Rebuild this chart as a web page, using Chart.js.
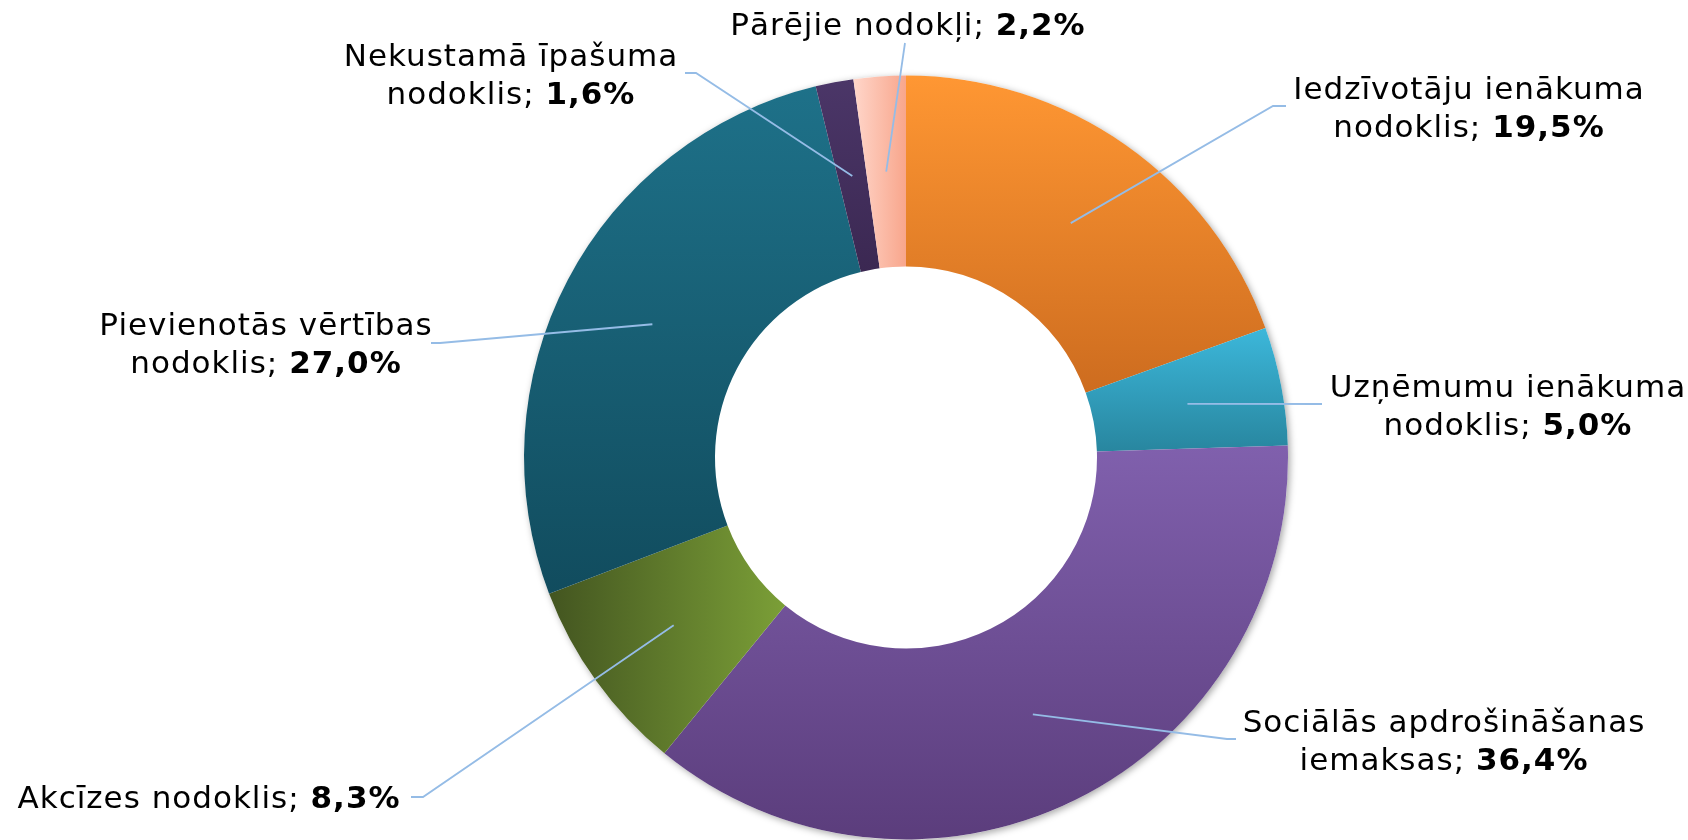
<!DOCTYPE html>
<html lang="lv">
<head>
<meta charset="UTF-8">
<title>Nodokļu ieņēmumu struktūra</title>
<script src="https://cdn.jsdelivr.net/npm/chart.js"></script>
<style>
    html, body { margin: 0; padding: 0; background: #ffffff; }
    .chart-box { position: relative; width: 1688px; height: 840px; }
</style>
</head>
<body>
<div class="chart-box"><canvas id="taxChart"></canvas></div>
<script>
    // data, clockwise from 12 o'clock
    const categories = [
        'Iedzīvotāju ienākuma nodoklis',
        'Uzņēmumu ienākuma nodoklis',
        'Sociālās apdrošināšanas iemaksas',
        'Akcīzes nodoklis',
        'Pievienotās vērtības nodoklis',
        'Nekustamā īpašuma nodoklis',
        'Pārējie nodokļi'
    ];
    const shares = [19.5, 5.0, 36.4, 8.3, 27.0, 1.6, 2.2];

    // fill of each slice: gradient from -> to, vertical or horizontal
    const sliceColors = [
        { from: '#ff9733', to: '#cd6c1f', dir: 'v' },
        { from: '#3cb7da', to: '#28869f', dir: 'v' },
        { from: '#8060ad', to: '#5b3d7c', dir: 'v' },
        { from: '#435520', to: '#7b9f37', dir: 'h' },
        { from: '#1e7189', to: '#114c5e', dir: 'v' },
        { from: '#4b3668', to: '#3b2852', dir: 'v' },
        { from: '#ffd6ca', to: '#f8a68c', dir: 'h' }
    ];

    // where each label sits: centre x, baseline of first line, and its leader line
    const labelSpots = [
        { x: 1469, y: 99,  lines: 2, elbow: [1273, 106], end: [1286, 106] },
        { x: 1508, y: 397, lines: 2, elbow: [1322, 404], end: [1322, 404] },
        { x: 1444, y: 732, lines: 2, elbow: [1227, 739], end: [1236, 739] },
        { x: 209,  y: 808, lines: 1, elbow: [423, 797],  end: [411, 797] },
        { x: 266,  y: 335, lines: 2, elbow: [440, 343],  end: [431, 343] },
        { x: 511,  y: 66,  lines: 2, elbow: [696, 73],   end: [685, 73] },
        { x: 908,  y: 35,  lines: 1, elbow: [905, 43],   end: [905, 43] }
    ];

    const FONT_FAMILY = '"DejaVu Sans", Verdana, sans-serif';
    const FONT_SIZE = 31;
    const LINE_GAP = 38;

    function formatShare(v) {
        return v.toFixed(1).replace('.', ',') + '%';
    }

    function sliceGradient(context) {
        const chart = context.chart;
        const area = chart.chartArea;
        const c = sliceColors[context.dataIndex];
        if (!area) return c.from;
        const cx = (area.left + area.right) / 2;
        const cy = (area.top + area.bottom) / 2;
        const outer = Math.min(area.width, area.height) / 2;
        const inner = outer * 0.5;
        const total = shares.reduce((a, b) => a + b, 0);
        let before = 0;
        for (let i = 0; i < context.dataIndex; i++) before += shares[i];
        const a0 = -Math.PI / 2 + 2 * Math.PI * before / total;
        const a1 = a0 + 2 * Math.PI * shares[context.dataIndex] / total;
        let minX = Infinity, maxX = -Infinity, minY = Infinity, maxY = -Infinity;
        for (let k = 0; k <= 40; k++) {
            const a = a0 + (a1 - a0) * k / 40;
            [inner, outer].forEach(r => {
                const px = cx + Math.cos(a) * r;
                const py = cy + Math.sin(a) * r;
                minX = Math.min(minX, px); maxX = Math.max(maxX, px);
                minY = Math.min(minY, py); maxY = Math.max(maxY, py);
            });
        }
        const g = c.dir === 'h'
            ? chart.ctx.createLinearGradient(minX, 0, maxX, 0)
            : chart.ctx.createLinearGradient(0, minY, 0, maxY);
        g.addColorStop(0, c.from);
        g.addColorStop(1, c.to);
        return g;
    }

    // soft shadow under the ring
    const ringShadow = {
        id: 'ringShadow',
        beforeDatasetsDraw(chart) {
            const arc = chart.getDatasetMeta(0).data[0];
            if (!arc) return;
            const ctx = chart.ctx;
            ctx.save();
            ctx.shadowColor = 'rgba(0, 0, 0, 0.35)';
            ctx.shadowBlur = 7;
            ctx.shadowOffsetX = 2;
            ctx.shadowOffsetY = 2;
            ctx.fillStyle = '#ffffff';
            ctx.beginPath();
            ctx.arc(arc.x, arc.y, arc.outerRadius, 0, Math.PI * 2);
            ctx.fill();
            ctx.restore();
        }
    };

    // leader lines and two-weight labels
    const sliceLabels = {
        id: 'sliceLabels',
        afterDatasetsDraw(chart) {
            const ctx = chart.ctx;
            const arcs = chart.getDatasetMeta(0).data;
            ctx.save();
            arcs.forEach((arc, i) => {
                const spot = labelSpots[i];
                const mid = (arc.startAngle + arc.endAngle) / 2;
                const rm = (arc.innerRadius + arc.outerRadius) / 2;
                const sx = arc.x + Math.cos(mid) * rm;
                const sy = arc.y + Math.sin(mid) * rm;

                ctx.strokeStyle = '#95bce6';
                ctx.lineWidth = 1.8;
                ctx.beginPath();
                ctx.moveTo(sx, sy);
                ctx.lineTo(spot.elbow[0], spot.elbow[1]);
                ctx.lineTo(spot.end[0], spot.end[1]);
                ctx.stroke();

                const name = categories[i];
                let first = null, rest = name;
                if (spot.lines === 2) {
                    const cut = name.lastIndexOf(' ');
                    first = name.slice(0, cut);
                    rest = name.slice(cut + 1);
                }
                const plain = rest + '; ';
                const bold = formatShare(shares[i]);

                ctx.fillStyle = '#000000';
                ctx.textBaseline = 'alphabetic';
                ctx.textAlign = 'left';
                ctx.letterSpacing = '1px';
                let y = spot.y;
                if (first) {
                    ctx.font = FONT_SIZE + 'px ' + FONT_FAMILY;
                    const w = ctx.measureText(first).width;
                    ctx.fillText(first, spot.x - w / 2, y);
                    y += LINE_GAP;
                }
                ctx.font = FONT_SIZE + 'px ' + FONT_FAMILY;
                const wPlain = ctx.measureText(plain).width;
                ctx.font = 'bold ' + FONT_SIZE + 'px ' + FONT_FAMILY;
                const wBold = ctx.measureText(bold).width;
                const x0 = spot.x - (wPlain + wBold) / 2;
                ctx.font = FONT_SIZE + 'px ' + FONT_FAMILY;
                ctx.fillText(plain, x0, y);
                ctx.font = 'bold ' + FONT_SIZE + 'px ' + FONT_FAMILY;
                ctx.fillText(bold, x0 + wPlain, y);
            });
            ctx.restore();
        }
    };

    new Chart(document.getElementById('taxChart'), {
        type: 'doughnut',
        data: {
            labels: categories,
            datasets: [{
                data: shares,
                backgroundColor: sliceGradient,
                borderWidth: 0,
                hoverOffset: 0,
                offset: 0
            }]
        },
        options: {
            responsive: true,
            maintainAspectRatio: false,
            animation: false,
            cutout: '50%',
            layout: { padding: { left: 524, right: 400, top: 75, bottom: 0 } },
            plugins: {
                legend: { display: false },
                tooltip: { enabled: false }
            },
            events: []
        },
        plugins: [ringShadow, sliceLabels]
    });
</script>
</body>
</html>
